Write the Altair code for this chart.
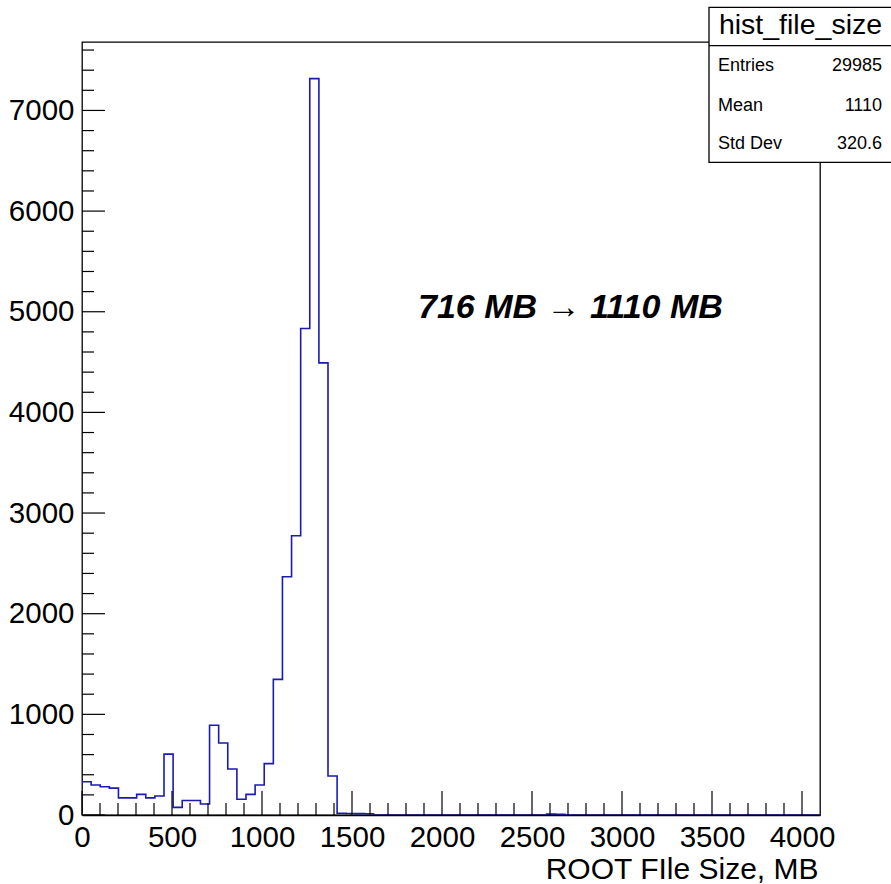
import altair as alt
import pandas as pd

# ---------------- data ----------------
N_BINS = 81
X_MAX = 4100
Y_MAX = 7680
counts = [331, 298, 281, 267, 170, 170, 205, 170, 189, 605,
          76, 144, 144, 109, 892, 715, 457, 157, 205, 298,
          510, 1347, 2367, 2774, 4833, 7316, 4492, 387, 18, 15,
          14, 13] + [0] * 19 + [9, 7] + [0] * 28

x_major = [0, 500, 1000, 1500, 2000, 2500, 3000, 3500, 4000]
x_minor = [v for v in range(100, 4100, 100) if v % 500 != 0]
y_major = [0, 1000, 2000, 3000, 4000, 5000, 6000, 7000]
y_minor = [v for v in range(200, 7680, 200) if v % 1000 != 0]

stat_title = "hist_file_size"
stat_names = ["Entries", "Mean", "Std Dev"]
stat_values = ["29985", "1110", "320.6"]
annotation = "716 MB \u2192 1110 MB"
x_title = "ROOT FIle Size, MB"

# ---------------- layout ----------------
W, H = 738, 773
FONT = "Liberation Sans"
LINE_COLOR = "#1a1ab4"

bw = X_MAX / N_BINS
edges = [i * bw for i in range(N_BINS + 1)]
hist_df = pd.DataFrame({"x": edges, "y": counts + [counts[-1]]})

xscale = alt.Scale(domain=[0, X_MAX], nice=False, zero=False)
yscale = alt.Scale(domain=[0, Y_MAX], nice=False)

xaxis = alt.Axis(values=x_major, format="d", ticks=False, grid=False,
                 domain=True, domainColor="black", domainWidth=1.6,
                 labelFont=FONT, labelFontSize=29.5, labelColor="black",
                 labelPadding=8, labelFlush=False, labelOverlap=False,
                 title=x_title, titleFont=FONT, titleFontSize=30,
                 titleFontWeight="normal", titleColor="black",
                 titleX=736, titleY=63, titleAlign="right",
                 titleBaseline="alphabetic", zindex=1)
yaxis = alt.Axis(values=y_major, format="d", ticks=False, grid=False,
                 domain=False, labelFont=FONT, labelFontSize=29.5,
                 labelColor="black", labelPadding=8, labelFlush=False,
                 labelOverlap=False, title=None)

hist = alt.Chart(hist_df).mark_line(
    interpolate="step-after", color=LINE_COLOR, strokeWidth=1.6
).encode(
    x=alt.X("x:Q", scale=xscale, axis=xaxis),
    y=alt.Y("y:Q", scale=yscale, axis=yaxis),
)

def xticks(vals, length):
    return alt.Chart(pd.DataFrame({"x": vals})).mark_rule(
        color="black", strokeWidth=1.2
    ).encode(
        x=alt.X("x:Q", scale=xscale, axis=xaxis),
        y=alt.value(H), y2=alt.value(H - length),
    )

def yticks(vals, length):
    return alt.Chart(pd.DataFrame({"y": vals})).mark_rule(
        color="black", strokeWidth=1.2
    ).encode(
        y=alt.Y("y:Q", scale=yscale, axis=yaxis),
        x=alt.value(0), x2=alt.value(length),
    )

one = pd.DataFrame({"a": [0]})

ann = alt.Chart(one).mark_text(
    text=annotation, font=FONT, fontSize=34, fontWeight="bold",
    fontStyle="italic", align="left", baseline="middle", color="black"
).encode(x=alt.value(336), y=alt.value(266))

box = alt.Chart(one).mark_rect(
    fill="white", stroke="black", strokeWidth=1.3
).encode(x=alt.value(627), x2=alt.value(820),
         y=alt.value(-34.7), y2=alt.value(120.3))

divider = alt.Chart(one).mark_rule(color="black", strokeWidth=1.3).encode(
    x=alt.value(627), x2=alt.value(820), y=alt.value(3.7))

title_txt = alt.Chart(one).mark_text(
    text=stat_title, font=FONT, fontSize=28.5, align="center",
    baseline="middle", color="black"
).encode(x=alt.value(718.5), y=alt.value(-17))

layers = [hist,
          xticks(x_major, 24), xticks(x_minor, 12),
          yticks(y_major, 23), yticks(y_minor, 12),
          ann, box, divider, title_txt]

row_y = [24, 63.5, 102]
for name, val, ry in zip(stat_names, stat_values, row_y):
    layers.append(alt.Chart(one).mark_text(
        text=name, font=FONT, fontSize=18, align="left",
        baseline="middle", color="black"
    ).encode(x=alt.value(636), y=alt.value(ry)))
    layers.append(alt.Chart(one).mark_text(
        text=val, font=FONT, fontSize=18, align="right",
        baseline="middle", color="black"
    ).encode(x=alt.value(800), y=alt.value(ry)))

chart = alt.layer(*layers).properties(
    width=W, height=H,
    autosize=alt.AutoSizeParams(type="none"),
    padding={"left": 82, "top": 42, "right": 71, "bottom": 69},
    background="white",
).configure_view(stroke="black", strokeWidth=1.3)

chart.save("out.html", embed_options={"renderer": "svg", "actions": False})
